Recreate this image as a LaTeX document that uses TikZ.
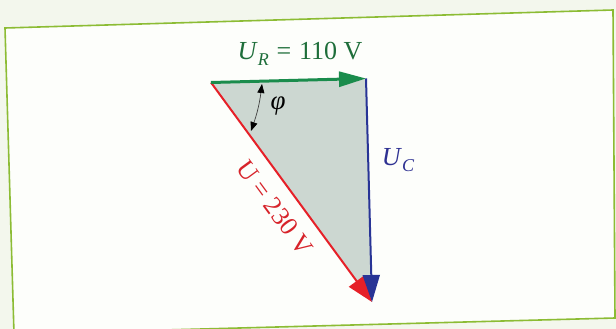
\documentclass[tikz,border=0pt]{standalone}
\usepackage{fontspec}
\setmainfont{Liberation Serif}
\usetikzlibrary{arrows.meta}
\definecolor{pagebg}{RGB}{243,247,237}
\definecolor{boxgreen}{RGB}{140,188,52}
\definecolor{boxfill}{RGB}{253,254,251}
\definecolor{trifill}{RGB}{204,215,209}
\definecolor{greenv}{RGB}{26,140,76}
\definecolor{bluev}{RGB}{40,52,150}
\definecolor{redv}{RGB}{230,32,40}
\definecolor{greentext}{RGB}{30,110,58}
\definecolor{bluetext}{RGB}{46,49,146}
\definecolor{redtext}{RGB}{215,35,42}
\newcommand{\subl}[1]{\raisebox{-0.22em}{\fontsize{18}{20}\selectfont\textit{#1}}}
\tikzset{
  lbl/.style={inner sep=0pt, font=\fontsize{26}{30}\selectfont},
  vec/.style={line width=2pt},
}
\begin{document}
\begin{tikzpicture}[x=1pt,y=-1pt]
\useasboundingbox (0,0) rectangle (616,329);
\fill[pagebg] (0,0) rectangle (616,329);
\filldraw[draw=boxgreen, fill=boxfill, line width=1.6pt] (5,28) -- (613,10) -- (615,318) -- (14,334) -- cycle;

\coordinate (A) at (211,82.5);
\coordinate (B) at (366,78.5);
\coordinate (C) at (372,302);

\fill[trifill] (A) -- (B) -- (C) -- cycle;

\draw[vec, redv, -{Triangle[length=26pt,width=19pt]}] (A) -- (C);
\draw[vec, bluev, -{Triangle[length=27pt,width=17pt]}] (B) -- (C);
\draw[vec, greenv, line width=3pt, -{Triangle[length=27pt,width=15pt]}] (A) -- (B);

\coordinate (p1) at (262,84);
\coordinate (p2) at (251,131);
\draw[black!75, line width=0.7pt, {Triangle[length=9pt,width=7pt,color=black]}-{Triangle[length=9pt,width=7pt,color=black]}] (p1) to[bend left=6] (p2);

\node[lbl, text=greentext] (ur) at (300,54) {\textit{U}\subl{R}\hspace{0.3em}=\hspace{0.3em}110 V};
\node[lbl, text=bluetext] (uc) at (398,160) {\textit{U}\subl{C}};
\node[lbl, text=redtext, rotate=-53.8] (u) at (275,208) {U = 230 V};
\node[lbl, font=\fontsize{27}{30}\selectfont] (phi) at (278,106) {\textit{φ}};
\end{tikzpicture}
\end{document}
